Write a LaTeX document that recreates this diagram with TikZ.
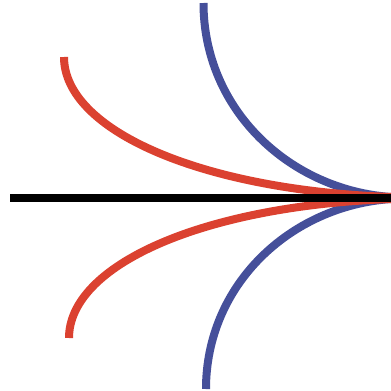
\documentclass[tikz,border=0pt]{standalone}
\definecolor{curvered}{RGB}{219,65,48}
\definecolor{curveblue}{RGB}{69,79,154}
\tikzset{
  curve/.style={line width=8pt, line cap=butt},
  axisline/.style={line width=8.2pt, line cap=butt, black}
}
\begin{document}
\begin{tikzpicture}[x=1pt,y=-1pt]
\useasboundingbox (0,0) rectangle (391,391);
\coordinate (tip) at (391,197);
\coordinate (tipb) at (391,199);
% blue curves
\draw[curve, curveblue] (203.5,3) .. controls (203.5,110) and (290,190) .. (tip);
\draw[curve, curveblue] (206,389) .. controls (206,285) and (290,206) .. (tipb);
% red curves
\draw[curve, curvered] (64,57) .. controls (64,130) and (200,190) .. (tip);
\draw[curve, curvered] (69,338) .. controls (69,266) and (200,206) .. (tipb);
% black axis
\draw[axisline] (10,198.3) -- (391,198.3);
\end{tikzpicture}
\end{document}
